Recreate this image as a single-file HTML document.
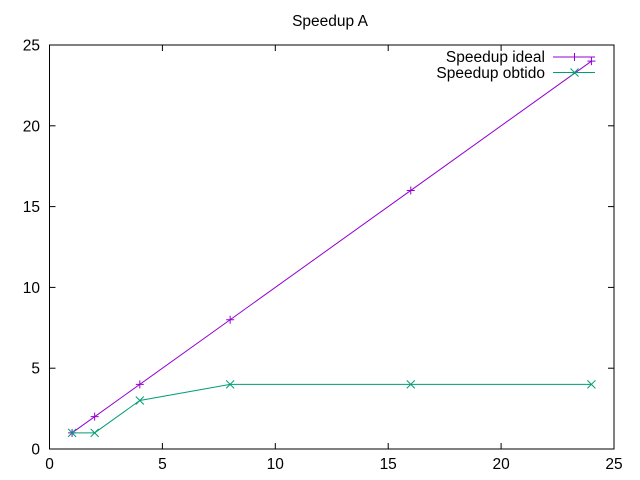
<!DOCTYPE html>
<html><head><meta charset="utf-8"><style>body{margin:0;background:#fff}svg{display:block;font-family:"Liberation Sans",sans-serif}</style></head>
<body>
<svg id="chart" width="640" height="480" xmlns="http://www.w3.org/2000/svg">
<text x="330" y="26" font-size="15.5" text-anchor="middle">Speedup A</text>
<rect x="49.5" y="45" width="564.5" height="404" fill="none" stroke="#000" stroke-width="1"/>
<g id="axes"></g>
<g id="series"></g>
<g>
<text x="545" y="62" font-size="15.5" text-anchor="end">Speedup ideal</text>
<line x1="553" y1="57" x2="595" y2="57" stroke="#9400d3"/>
<path d="M574.5,53V61" stroke="#9400d3" fill="none"/>
<text x="545" y="78" font-size="15.5" text-anchor="end">Speedup obtido</text>
<line x1="553" y1="72.5" x2="595" y2="72.5" stroke="#009e73"/>
<path d="M570.5,68.5L578.5,76.5M570.5,76.5L578.5,68.5" stroke="#009e73" fill="none"/>
</g>
</svg>
<script>
const xTicks=[0,5,10,15,20,25];
const yTicks=[0,5,10,15,20,25];
const threads=[1,2,4,8,16,24];
const ideal=[1,2,4,8,16,24];
const obtido=[1,1,3,4,4,4];
const NS="http://www.w3.org/2000/svg";
const X=v=>49.5+v*(564.5/25), Y=v=>449-v*(404/25);
const ax=document.getElementById('axes'), se=document.getElementById('series');
function mk(t,a,p){const e=document.createElementNS(NS,t);for(const k in a)e.setAttribute(k,a[k]);p.appendChild(e);return e;}
xTicks.forEach(v=>{
 const x=X(v);
 const l1=mk('line',{x1:x,y1:449,x2:x,y2:443,stroke:'#000'},ax);
 
 
 const l2=mk('line',{x1:x,y1:45,x2:x,y2:51,stroke:'#000'},ax);
 
 
 const t=mk('text',{x:x,y:469,'font-size':15.5,'text-anchor':'middle'},ax);t.textContent=v;
 
 
});
yTicks.forEach(v=>{
 const y=Y(v);
 const l1=mk('line',{x1:49.5,y1:y,x2:55.5,y2:y,stroke:'#000'},ax);
 
 
 const l2=mk('line',{x1:614,y1:y,x2:608,y2:y,stroke:'#000'},ax);
 
 
 const t=mk('text',{x:40,y:y+5.5,'font-size':15.5,'text-anchor':'end'},ax);t.textContent=v;
 
 
});
function series(vals,color,name,plus){
 const pts=threads.map((t,i)=>X(t)+','+Y(vals[i])).join(' ');
 const pl=mk('polyline',{points:pts,fill:'none',stroke:color},se);
 
 
 threads.forEach((t,i)=>{
  const x=X(t),y=Y(vals[i]);
  const d=plus?`M${x-4},${y}H${x+4}M${x},${y-4}V${y+4}`:`M${x-4},${y-4}L${x+4},${y+4}M${x-4},${y+4}L${x+4},${y-4}`;
  const p=mk('path',{d:d,stroke:color,fill:'none'},se);
  
  
 });
}
series(ideal,'#9400d3','ideal',true);
series(obtido,'#009e73','obtido',false);
</script>
</body></html>
